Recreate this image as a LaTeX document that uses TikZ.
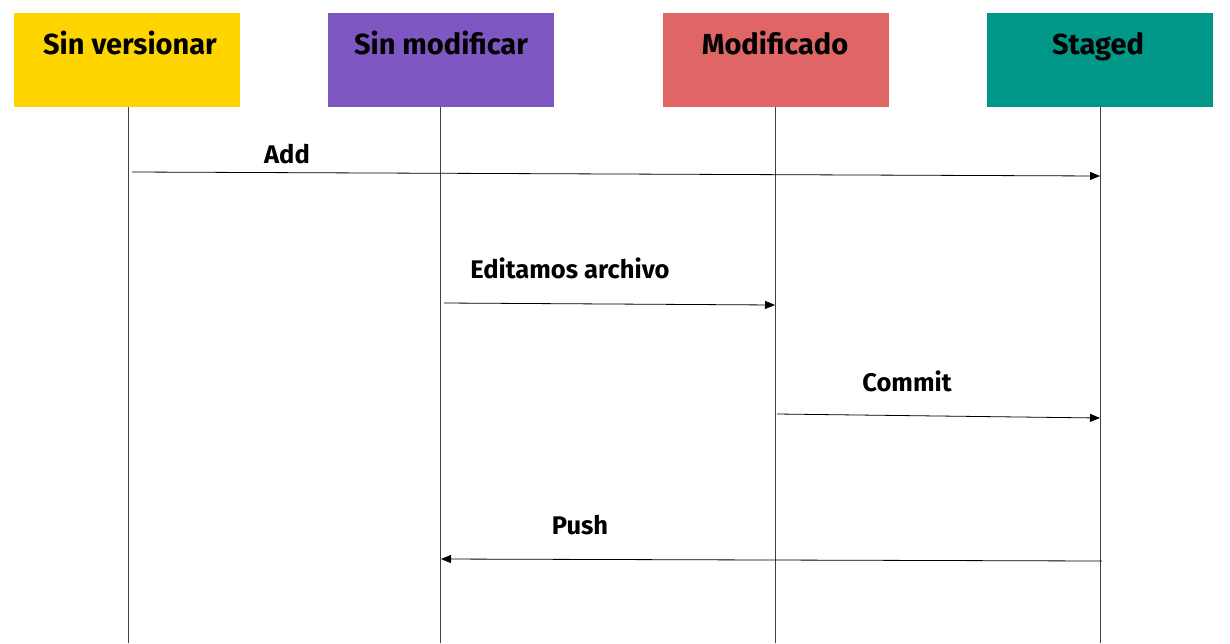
\documentclass[tikz,border=0pt]{standalone}
\usepackage{fontspec}
\setmainfont{Fira Sans}
\usetikzlibrary{arrows.meta}
\definecolor{cyellow}{HTML}{FFD500}
\definecolor{cpurple}{HTML}{7E57C2}
\definecolor{cred}{HTML}{E06666}
\definecolor{cteal}{HTML}{009688}
\tikzset{
  statebox/.style={draw=none, rectangle, minimum width=226pt, minimum height=94pt, inner sep=0pt},
  boxtitle/.style={font=\fontsize{29}{32}\selectfont\bfseries, text=black, inner sep=0pt, anchor=base},
  lifeline/.style={draw=black!75, line width=0.8pt},
  msg/.style={draw=black, line width=0.8pt, -{Triangle[length=10pt,width=8pt]}},
  msglabel/.style={font=\fontsize{25.5}{29}\selectfont\bfseries, text=black, inner sep=0pt, anchor=base}
}
\begin{document}
\begin{tikzpicture}[x=1pt,y=-1pt]
\useasboundingbox (0,0) rectangle (1230,643);
% boxes
\node[statebox, fill=cyellow] (sv) at (127,60) {};
\node[statebox, fill=cpurple] (sm) at (440.5,60) {};
\node[statebox, fill=cred] (mo) at (775.5,60) {};
\node[statebox, fill=cteal] (st) at (1100,60) {};
\node[boxtitle] (svt) at (130,54) {Sin versionar};
\node[boxtitle] (smt) at (441,54) {Sin modificar};
\node[boxtitle] (mot) at (775,54) {Modificado};
\node[boxtitle] (stt) at (1098,54) {Staged};
% lifeline ends
\coordinate (svb) at (128,643);
\coordinate (smb) at (440,643);
\coordinate (mob) at (775,643);
\coordinate (stb) at (1100,643);
\draw[lifeline] (sv.south -| svb) -- (svb);
\draw[lifeline] (sm.south -| smb) -- (smb);
\draw[lifeline] (mo.south -| mob) -- (mob);
\draw[lifeline] (st.south -| stb) -- (stb);
% message endpoints
\coordinate (a1) at (132,172);
\coordinate (a2) at (1100,176);
\coordinate (e1) at (444,303);
\coordinate (e2) at (775,305);
\coordinate (c1) at (777,414);
\coordinate (c2) at (1100,418);
\coordinate (p1) at (1102,561);
\coordinate (p2) at (441,559);
\draw[msg] (a1) -- (a2);
\draw[msg] (e1) -- (e2);
\draw[msg] (c1) -- (c2);
\draw[msg] (p1) -- (p2);
% labels
\node[msglabel] (la) at (287,163) {Add};
\node[msglabel] (le) at (570,278) {Editamos archivo};
\node[msglabel] (lc) at (907,391) {Commit};
\node[msglabel] (lp) at (580,534) {Push};
\end{tikzpicture}
\end{document}
